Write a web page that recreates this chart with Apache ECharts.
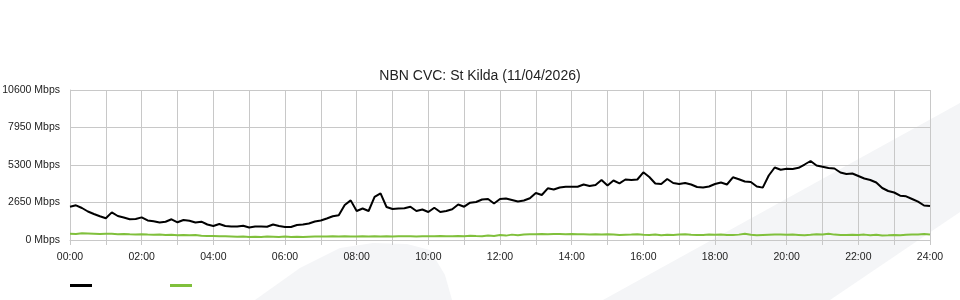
<!DOCTYPE html>
<html><head><meta charset="utf-8">
<script src="https://cdn.jsdelivr.net/npm/echarts@6/dist/echarts.min.js"></script>
<style>html,body{margin:0;padding:0;background:#fff}#c{width:960px;height:300px}</style>
</head><body><div id="c"></div><script>
// 10-minute samples, 00:00 .. 24:00 (Mbps)
const download = [
2353, 2450, 2261, 2014, 1837, 1675, 1533, 1950, 1696, 1590,
1463, 1484, 1600, 1380, 1321, 1237, 1293, 1463, 1251, 1413,
1364, 1237, 1293, 1095, 989, 1131, 989, 954, 954, 1011,
883, 954, 954, 940, 1095, 989, 919, 919, 1060, 1095,
1166, 1307, 1378, 1519, 1675, 1745, 2473, 2800, 2049, 2226,
2049, 3050, 3300, 2332, 2191, 2226, 2240, 2353, 2049, 2155,
1979, 2283, 1979, 2049, 2170, 2509, 2353, 2636, 2685, 2862,
2897, 2579, 2897, 2933, 2827, 2721, 2791, 2947, 3321, 3180,
3654, 3569, 3710, 3767, 3767, 3767, 3922, 3816, 3887, 4240,
3851, 4205, 4007, 4275, 4240, 4275, 4784, 4452, 3993, 3957,
4311, 4028, 3957, 4028, 3922, 3745, 3710, 3781, 3957, 4063,
3922, 4431, 4297, 4134, 4099, 3780, 3700, 4558, 5123, 4968,
5032, 5017, 5102, 5335, 5583, 5265, 5180, 5088, 5053, 4770,
4664, 4699, 4523, 4346, 4240, 4063, 3675, 3463, 3357, 3131,
3088, 2897, 2707, 2438, 2403
];
const upload = [
450, 430, 470, 460, 440, 420, 450, 440, 410, 420,
400, 390, 400, 380, 370, 380, 360, 370, 340, 350,
330, 360, 300, 290, 280, 260, 270, 250, 230, 240,
220, 230, 220, 240, 230, 220, 240, 220, 230, 210,
230, 240, 250, 240, 260, 250, 260, 250, 240, 260,
250, 270, 250, 260, 240, 260, 270, 260, 250, 270,
260, 270, 280, 260, 270, 280, 270, 300, 280, 270,
320, 290, 350, 310, 380, 340, 390, 410, 400, 420,
410, 430, 420, 410, 420, 400, 410, 390, 400, 380,
400, 390, 360, 370, 380, 400, 370, 360, 390, 340,
370, 360, 380, 400, 370, 350, 360, 380, 370, 390,
360, 350, 380, 440, 370, 340, 360, 370, 380, 380,
370, 380, 360, 340, 370, 410, 390, 440, 380, 360,
350, 370, 360, 380, 340, 370, 320, 330, 350, 340,
370, 380, 390, 430, 390
];
const yMax = 10600;
const yStep = 2650;
const titleText = 'NBN CVC: St Kilda (11/04/2026)';

const times = [];
for (let h = 0; h <= 24; h++) {
  for (let m = 0; m < 60; m += 10) {
    if (h === 24 && m > 0) break;
    times.push(String(h).padStart(2, '0') + ':' + String(m).padStart(2, '0'));
  }
}

const FONT = '"Liberation Sans", Arial, sans-serif';
const chart = echarts.init(document.getElementById('c'), null, {renderer: 'canvas'});
chart.setOption({
  animation: false,
  backgroundColor: '#fff',
  title: {
    text: titleText, left: 'center', top: 64,
    textStyle: {fontFamily: FONT, fontSize: 14, fontWeight: 'normal', color: '#222'}
  },
  graphic: [
    {type: 'polygon', z: -10, silent: true,
     shape: {points: [[255,300],[300,268],[340,248],[373,243],[407,244],[430,250],[445,275],[452,300]]},
     style: {fill: '#f4f5f7'}},
    {type: 'polygon', z: -10, silent: true,
     shape: {points: [[603,300],[960,103],[960,212],[830,300]]},
     style: {fill: '#f4f5f7'}}
  ],
  legend: [
    {left: 70, top: 284, padding: 0, itemWidth: 22, itemHeight: 3, icon: 'rect', formatter: () => '',
     textStyle: {fontSize: 1, lineHeight: 1}, data: ['Download']},
    {left: 170, top: 284, padding: 0, itemWidth: 22, itemHeight: 3, icon: 'rect', formatter: () => '',
     textStyle: {fontSize: 1, lineHeight: 1}, data: ['Upload']}
  ],
  grid: {left: 70, right: 30, top: 90, bottom: 60, containLabel: false, outerBoundsMode: 'none'},
  xAxis: {
    type: 'category', data: times, boundaryGap: false,
    axisLine: {lineStyle: {color: '#c8c8c8'}},
    axisTick: {show: true, interval: 5, length: 5, lineStyle: {color: '#c8c8c8'}},
    axisLabel: {interval: 11, color: '#222', fontFamily: FONT, fontSize: 10.5, margin: 12},
    splitLine: {show: true, interval: 5, lineStyle: {color: '#c8c8c8'}}
  },
  yAxis: {
    type: 'value', min: 0, max: yMax, interval: yStep,
    axisLine: {show: true, lineStyle: {color: '#c8c8c8'}},
    axisTick: {show: false},
    axisLabel: {formatter: v => v + ' Mbps', color: '#222', fontFamily: FONT, fontSize: 10.5, margin: 10,
                padding: [0, 0, 3, 0]},
    splitLine: {lineStyle: {color: '#c8c8c8'}}
  },
  series: [
    {name: 'Download', type: 'line', data: download, showSymbol: false, symbol: 'none',
     color: '#000', lineStyle: {width: 2, color: '#000'}, z: 3},
    {name: 'Upload', type: 'line', data: upload, showSymbol: false, symbol: 'none',
     color: '#80c03c', lineStyle: {width: 2, color: '#80c03c'}, z: 2}
  ]
});
</script></body></html>
